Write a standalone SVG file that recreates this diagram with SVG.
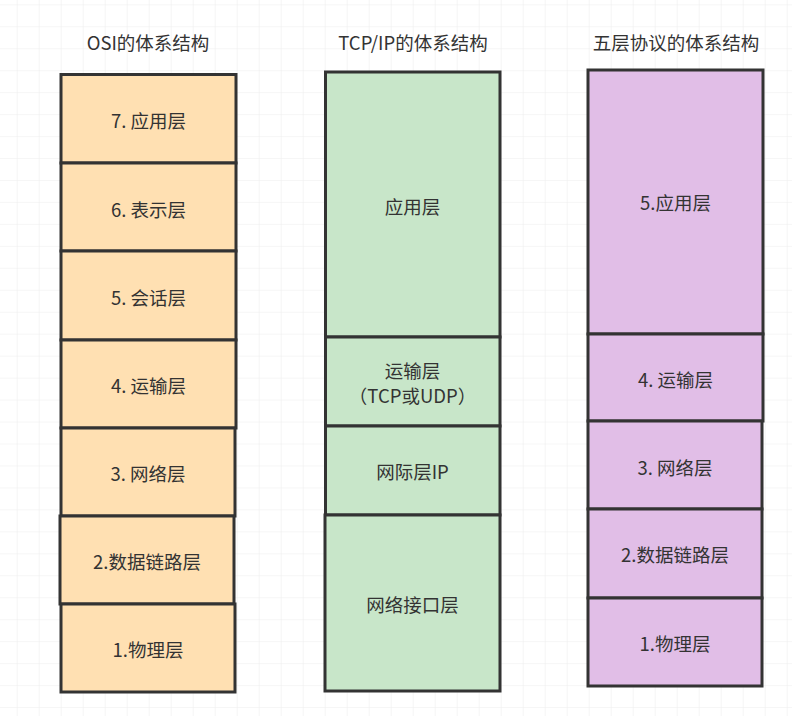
<svg xmlns="http://www.w3.org/2000/svg" width="808" height="720" viewBox="0 0 808 720">
<defs>
<pattern id="grid" x="16.7" y="4.3" width="22" height="21.96" patternUnits="userSpaceOnUse">
<path d="M0 0V21.96M0 0H22" fill="none" stroke="#eeeeee" stroke-width="1.2"/>
</pattern>
<style>
text{font-family:"Noto Sans CJK SC","Microsoft YaHei","Noto Sans",sans-serif;font-size:18.5px;fill:#333333;text-anchor:middle;dominant-baseline:central}
.b{stroke:#333333;stroke-width:3}
.osi{fill:#ffe0b2}
.tcp{fill:#c8e6c9}
.five{fill:#e1bee7}
</style>
</defs>
<rect width="808" height="720" fill="#ffffff"/>
<rect x="0" y="0" width="792" height="716" fill="url(#grid)"/>

<text x="148" y="42">OSI的体系结构</text>
<text x="413" y="42">TCP/IP的体系结构</text>
<text x="676" y="42">五层协议的体系结构</text>

<g id="osi">
<g id="osi7"><rect class="b osi" x="61" y="74.5" width="175" height="88.5"/><text x="148.5" y="120">7. 应用层</text></g>
<g id="osi6"><rect class="b osi" x="61" y="163" width="175" height="88"/><text x="148.5" y="209">6. 表示层</text></g>
<g id="osi5"><rect class="b osi" x="61" y="251" width="175" height="89"/><text x="148.5" y="297">5. 会话层</text></g>
<g id="osi4"><rect class="b osi" x="61" y="340" width="175" height="88"/><text x="148.5" y="385">4. 运输层</text></g>
<g id="osi3"><rect class="b osi" x="61" y="428" width="174" height="88"/><text x="148" y="473">3. 网络层</text></g>
<g id="osi2"><rect class="b osi" x="60" y="516" width="174" height="88"/><text x="147" y="561">2.数据链路层</text></g>
<g id="osi1"><rect class="b osi" x="61" y="604" width="174" height="88"/><text x="148" y="649">1.物理层</text></g>
</g>

<g id="tcp">
<g id="tcp-app"><rect class="b tcp" x="325.5" y="72" width="174.5" height="265"/><text x="412.5" y="206">应用层</text></g>
<g id="tcp-trans"><rect class="b tcp" x="325.5" y="337" width="174.5" height="89"/><text x="412.5" y="370">运输层</text><text x="412.5" y="395">（TCP或UDP）</text></g>
<g id="tcp-net"><rect class="b tcp" x="325.5" y="426" width="174.5" height="89"/><text x="412.5" y="471">网际层IP</text></g>
<g id="tcp-link"><rect class="b tcp" x="325" y="515" width="175" height="176"/><text x="412.5" y="604">网络接口层</text></g>
</g>

<g id="five">
<g id="five5"><rect class="b five" x="588" y="70" width="175" height="264"/><text x="675.5" y="202">5.应用层</text></g>
<g id="five4"><rect class="b five" x="588" y="334" width="175" height="87"/><text x="675.5" y="379">4. 运输层</text></g>
<g id="five3"><rect class="b five" x="588" y="421" width="174" height="88"/><text x="675" y="467">3. 网络层</text></g>
<g id="five2"><rect class="b five" x="588" y="509" width="174" height="89"/><text x="675" y="554">2.数据链路层</text></g>
<g id="five1"><rect class="b five" x="588" y="598" width="174" height="88"/><text x="675" y="643">1.物理层</text></g>
</g>

<g id="connectors"></g>
</svg>
